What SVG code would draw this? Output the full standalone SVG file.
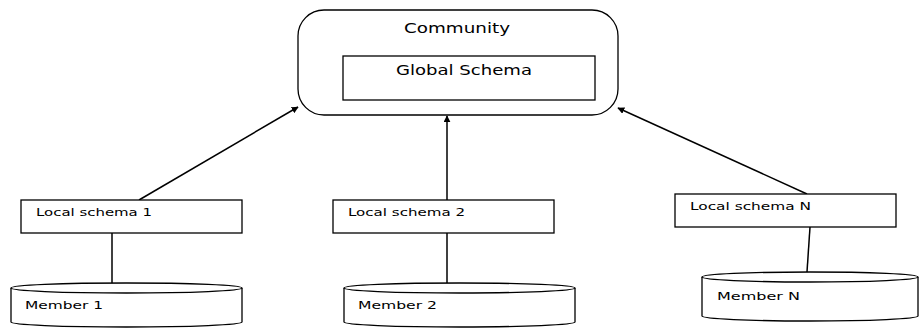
<svg xmlns="http://www.w3.org/2000/svg" width="921" height="328" viewBox="0 0 921 328">
  <style>
    .box { fill: #fff; stroke: #000; stroke-width: 1.3; }
    .db { fill: #fff; stroke: #000; stroke-width: 1.3; }
    .lbl { font-family: "DejaVu Sans", "Open Sans", sans-serif; font-size: 11px; fill: #000; }
    .big { font-size: 13.5px; }
    .conn { stroke: #000; stroke-width: 1.5; fill: none; }
  </style>
  <defs>
    <marker id="arrow" viewBox="0 0 10 10" refX="9" refY="5" markerWidth="7" markerHeight="7" markerUnits="userSpaceOnUse" orient="auto">
      <path d="M0,0 L10,5 L0,10 z" fill="#000"/>
    </marker>
  </defs>
  <rect width="921" height="328" fill="#fff"/>

  <!-- links between tiers -->
  <g id="connectors">
    <line class="conn" x1="139" y1="200" x2="298" y2="107" marker-end="url(#arrow)"/>
    <line class="conn" x1="447" y1="200" x2="447" y2="116" marker-end="url(#arrow)"/>
    <line class="conn" x1="807" y1="194" x2="618" y2="108" marker-end="url(#arrow)"/>
    <line class="conn" x1="112" y1="233" x2="112" y2="283"/>
    <line class="conn" x1="447" y1="233" x2="447" y2="283"/>
    <line class="conn" x1="810" y1="227" x2="807" y2="272"/>
  </g>

  <g id="community">
    <rect class="box" x="298" y="10" width="320" height="105" rx="26" ry="26"/>
    <text class="lbl big" x="404" y="33" textLength="106" lengthAdjust="spacingAndGlyphs">Community</text>
  </g>

  <g id="global-schema">
    <rect class="box" x="343" y="56" width="252" height="44"/>
    <text class="lbl big" x="396" y="75" textLength="136" lengthAdjust="spacingAndGlyphs">Global Schema</text>
  </g>

  <g id="local-schema-1">
    <rect class="box" x="21" y="200" width="221" height="33"/>
    <text class="lbl" x="36" y="216" textLength="116" lengthAdjust="spacingAndGlyphs">Local schema 1</text>
  </g>
  <g id="local-schema-2">
    <rect class="box" x="333" y="200" width="221" height="33"/>
    <text class="lbl" x="348" y="216" textLength="117" lengthAdjust="spacingAndGlyphs">Local schema 2</text>
  </g>
  <g id="local-schema-n">
    <rect class="box" x="675" y="194" width="221" height="33"/>
    <text class="lbl" x="690" y="210" textLength="121" lengthAdjust="spacingAndGlyphs">Local schema N</text>
  </g>

  <g id="member-1">
    <path class="db" d="M11,288 L11,322 A115.5,5 0 0 0 242,322 L242,288"/>
    <ellipse class="db" cx="126.5" cy="288" rx="115.5" ry="5"/>
    <text class="lbl" x="25" y="309" textLength="78" lengthAdjust="spacingAndGlyphs">Member 1</text>
  </g>
  <g id="member-2">
    <path class="db" d="M344,288 L344,322 A115.5,5 0 0 0 575,322 L575,288"/>
    <ellipse class="db" cx="459.5" cy="288" rx="115.5" ry="5"/>
    <text class="lbl" x="358" y="309" textLength="79" lengthAdjust="spacingAndGlyphs">Member 2</text>
  </g>
  <g id="member-n">
    <path class="db" d="M702,277 L702,316 A108,5 0 0 0 918,316 L918,277"/>
    <ellipse class="db" cx="810" cy="277" rx="108" ry="5"/>
    <text class="lbl" x="717" y="300" textLength="83" lengthAdjust="spacingAndGlyphs">Member N</text>
  </g>
</svg>
